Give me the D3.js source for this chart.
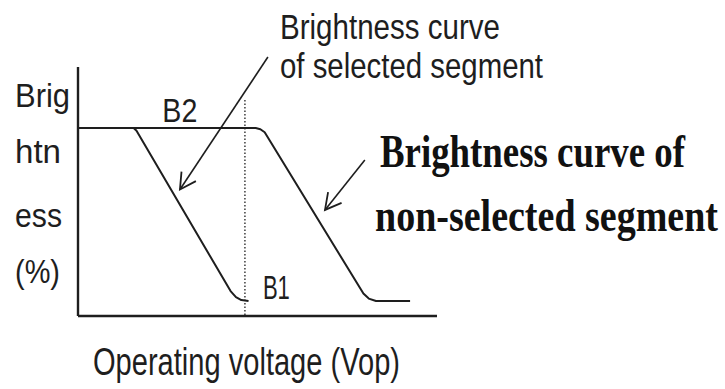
<!DOCTYPE html>
<html>
<head>
<meta charset="utf-8">
<script src="https://cdn.jsdelivr.net/npm/d3@7/dist/d3.min.js"></script>
<style>
    body { margin: 0; background: #fff; }
</style>
</head>
<body>
<div id="chart"></div>
<script>
// 数据: 电压(任意单位) 与 亮度(%)
var selVoltage = [0, 1.55, 1.63, 4.25, 4.4, 4.55, 4.75]
var selBright = [75.5, 75.5, 74.4, 10, 7.6, 6.4, 6]
var nonVoltage = [0, 4.95, 5.08, 5.2, 7.95, 8.1, 8.3, 9.25]
var nonBright = [75.5, 75.5, 75, 73.8, 9, 7, 6, 6]
var markerVoltage = 4.65
var markerTop = 86.7
var levelLabels = ['B2', 'B1']
var levelLabelX = [2.35, 5.15]
var levelLabelY = [78, 7]
var yLabelLines = ['Brig', 'htn', 'ess', '(%)']
var xLabel = 'Operating voltage (Vop)'
var noteSelected = ['Brightness curve', 'of selected segment']
var noteNonSelected = ['Brightness curve of', 'non-selected segment']
// 箭头: [起点电压, 起点亮度, 终点电压, 终点亮度]
var arrows = [[5.29, 104, 2.84, 50.8], [7.99, 62.7, 6.88, 42.6]]

var width = 725
var height = 389
var plotLeft = 78
var plotRight = 437
var plotTop = 67
var plotBottom = 316
var ink = '#1e1e1e'

var X = d3.scaleLinear().domain([0, 10]).range([plotLeft, plotRight])
var Y = d3.scaleLinear().domain([0, 100]).range([plotBottom, plotTop])

var svg = d3.select('#chart').append('svg')
    .attr('width', width)
    .attr('height', height)
    .style('background', '#fff')

// 坐标轴
svg.append('line')
    .attr('x1', plotLeft).attr('x2', plotLeft)
    .attr('y1', plotTop).attr('y2', plotBottom)
    .attr('stroke', ink).attr('stroke-width', 2.4)
svg.append('line')
    .attr('x1', plotLeft).attr('x2', plotRight)
    .attr('y1', plotBottom).attr('y2', plotBottom)
    .attr('stroke', ink).attr('stroke-width', 2.4)

// 虚线
svg.append('line')
    .attr('x1', X(markerVoltage)).attr('x2', X(markerVoltage))
    .attr('y1', Y(markerTop)).attr('y2', Y(0))
    .attr('stroke', ink).attr('stroke-width', 1.3)
    .attr('stroke-dasharray', '1.5,2')

var line = d3.line()
    .x(function (d) { return X(d[0]) })
    .y(function (d) { return Y(d[1]) })

var series = [
    d3.zip(nonVoltage, nonBright),
    d3.zip(selVoltage, selBright)
]
svg.append('g').selectAll('path')
    .data(series)
    .enter()
    .append('path')
    .attr('d', line)
    .attr('fill', 'none')
    .attr('stroke', ink)
    .attr('stroke-width', 2)
    .attr('stroke-linejoin', 'round')

// 箭头
var arrowG = svg.append('g').selectAll('g')
    .data(arrows)
    .enter()
    .append('g')
arrowG.append('line')
    .attr('x1', function (d) { return X(d[0]) })
    .attr('y1', function (d) { return Y(d[1]) })
    .attr('x2', function (d) { return X(d[2]) })
    .attr('y2', function (d) { return Y(d[3]) })
    .attr('stroke', ink)
    .attr('stroke-width', 1.6)
arrowG.append('path')
    .attr('d', function (d) {
        var tx = X(d[2]), ty = Y(d[3])
        var a = Math.atan2(Y(d[1]) - ty, X(d[0]) - tx)
        var len = 18, spread = 0.5
        var p1 = [tx + len * Math.cos(a - spread), ty + len * Math.sin(a - spread)]
        var p2 = [tx + len * Math.cos(a + spread), ty + len * Math.sin(a + spread)]
        return 'M' + p1 + 'L' + tx + ',' + ty + 'L' + p2
    })
    .attr('fill', 'none')
    .attr('stroke', ink)
    .attr('stroke-width', 1.8)

var narrow = '"Liberation Sans Narrow", "Arial Narrow", "Liberation Sans", Arial, sans-serif'

// B1 B2
svg.append('g').selectAll('text')
    .data(levelLabels)
    .enter()
    .append('text')
    .attr('x', function (d, i) { return X(levelLabelX[i]) })
    .attr('y', function (d, i) { return Y(levelLabelY[i]) })
    .attr('font-family', narrow)
    .attr('font-size', 33)
    .attr('textLength', function (d, i) { return i == 0 ? 35 : 27 })
    .attr('lengthAdjust', 'spacingAndGlyphs')
    .attr('fill', ink)
    .text(function (d) { return d })

// y 轴标题
var yLabelBase = [107, 163, 227, 283]
var yLabelWidth = [55, 46, 47, 45]
svg.append('g').selectAll('text')
    .data(yLabelLines)
    .enter()
    .append('text')
    .attr('x', 15)
    .attr('y', function (d, i) { return yLabelBase[i] })
    .attr('font-family', narrow)
    .attr('font-size', 34)
    .attr('textLength', function (d, i) { return yLabelWidth[i] })
    .attr('lengthAdjust', 'spacingAndGlyphs')
    .attr('fill', ink)
    .text(function (d) { return d })

// x 轴标题
svg.append('text')
    .attr('x', 93)
    .attr('y', 375)
    .attr('font-family', narrow)
    .attr('font-size', 38)
    .attr('textLength', 307)
    .attr('lengthAdjust', 'spacingAndGlyphs')
    .attr('fill', ink)
    .text(xLabel)

// 注释
var selBase = [39, 78]
var selWidth = [220, 263]
svg.append('g').selectAll('text')
    .data(noteSelected)
    .enter()
    .append('text')
    .attr('x', 280)
    .attr('y', function (d, i) { return selBase[i] })
    .attr('font-family', narrow)
    .attr('font-size', 35)
    .attr('textLength', function (d, i) { return selWidth[i] })
    .attr('lengthAdjust', 'spacingAndGlyphs')
    .attr('fill', ink)
    .text(function (d) { return d })

// 粗体衬线字: 用较小字号再纵向拉伸
var nonBase = [167, 231]
var nonX = [380, 375]
var nonWidth = [305, 343]
var nonSize = 34
var stretchY = 47 / nonSize
svg.append('g').selectAll('text')
    .data(noteNonSelected)
    .enter()
    .append('text')
    .attr('transform', function (d, i) {
        return 'translate(' + nonX[i] + ',' + nonBase[i] + ') scale(1,' + stretchY + ')'
    })
    .attr('font-family', '"Liberation Serif", "Times New Roman", serif')
    .attr('font-weight', 'bold')
    .attr('font-size', nonSize)
    .attr('textLength', function (d, i) { return nonWidth[i] })
    .attr('lengthAdjust', 'spacingAndGlyphs')
    .attr('fill', '#111')
    .text(function (d) { return d })
</script>
</body>
</html>
